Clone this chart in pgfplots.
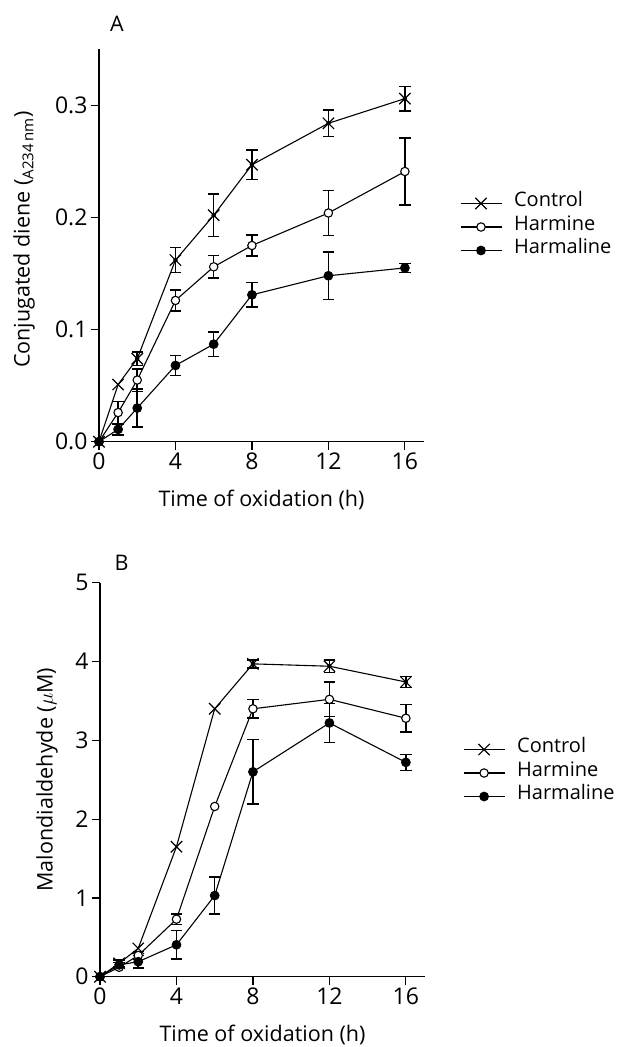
\documentclass[border=0pt]{standalone}
\usepackage{fontspec}
\setmainfont{Open Sans}
\usepackage{pgfplots}
\pgfplotsset{compat=1.18}

\pgfplotsset{
  fig/.style={
    scale only axis, width=325pt,
    xmin=0, xmax=17, xtick={0,4,8,12,16},
    axis lines=left, axis line style={-, line width=1.2pt},
    tick align=outside, major tick length=8pt, tick style={line width=1.2pt, black},
    clip=false,
    tick label style={font=\fontsize{23}{27}\selectfont},
    label style={font=\fontsize{21.5}{25}\selectfont},
    /pgf/number format/assume math mode=true,
    xlabel={Time of oxidation (h)},
    xlabel style={at={(axis description cs:0.5,-0.148)}, anchor=center},
    legend cell align=left,
    legend style={draw=none, fill=none, font=\fontsize{20}{24}\selectfont,
      inner sep=0pt, row sep=0pt,
      nodes={inner ysep=0pt, inner xsep=0pt, text height=15pt, text depth=8.5pt},
      /tikz/every odd column/.style={column sep=12pt}},
    legend image code/.code={\draw[mark repeat=2,mark phase=2,##1] plot coordinates {(0pt,0pt) (20.5pt,0pt) (41pt,0pt)};},
  },
  ctl/.style={black, line width=1.1pt, mark=x, mark size=8pt, mark options={line width=1.2pt}},
  hmn/.style={black, line width=1.1pt, mark=*, mark size=4.2pt, mark options={fill=white, line width=1.1pt}},
  hml/.style={black, line width=1.1pt, mark=*, mark size=4.3pt, mark options={fill=black}},
  err/.style={black, only marks, mark=none, forget plot,
    error bars/.cd, y dir=both, y explicit,
    error bar style={line width=1.5pt},
    error mark options={rotate=90, mark size=5.7pt, line width=1.5pt}},
}

\begin{document}
\begin{tikzpicture}
\path[use as bounding box] (-99pt,-605.3pt) rectangle (521pt,441.7pt);

% panel A
\begin{axis}[fig, at={(0pt,0pt)}, anchor=origin,
  height=392.4pt, ymin=0, ymax=0.35, ytick={0,0.1,0.2,0.3},
  yticklabel style={/pgf/number format/.cd, fixed, fixed zerofill, precision=1},
  ylabel={Conjugated diene (\textsubscript{A234\,nm})},
  ylabel style={at={(axis description cs:-0.231,0.515)}, anchor=center},
  legend style={at={(axis cs:18.87,0.1915)}, anchor=west},
]
\addplot[err] coordinates {(2,0.074) +- (0,0.006) (4,0.162) +- (0,0.011) (6,0.202) +- (0,0.019)
  (8,0.247) +- (0,0.013) (12,0.284) +- (0,0.012) (16,0.306) +- (0,0.011)};
\addplot[err] coordinates {(1,0.026) +- (0,0.010) (2,0.055) +- (0,0.010) (4,0.126) +- (0,0.0095)
  (6,0.156) +- (0,0.010) (8,0.175) +- (0,0.0095) (12,0.204) +- (0,0.020) (16,0.241) +- (0,0.030)};
\addplot[err] coordinates {(1,0.011) +- (0,0.005) (2,0.030) +- (0,0.017) (4,0.068) +- (0,0.009)
  (6,0.087) +- (0,0.011) (8,0.131) +- (0,0.011) (12,0.148) +- (0,0.021) (16,0.155) +- (0,0.004)};
\addplot[ctl] coordinates {(0,0) (1,0.051) (2,0.074) (4,0.162) (6,0.202) (8,0.247) (12,0.284) (16,0.306)};
\addplot[hmn] coordinates {(0,0) (1,0.026) (2,0.055) (4,0.126) (6,0.156) (8,0.175) (12,0.204) (16,0.241)};
\addplot[hml] coordinates {(0,0) (1,0.011) (2,0.030) (4,0.068) (6,0.087) (8,0.131) (12,0.148) (16,0.155)};
\legend{Control, Harmine, Harmaline}
\node[font=\fontsize{21.5}{25}\selectfont] at (rel axis cs:0,1) [xshift=18pt, yshift=26pt] {A};
\end{axis}

% panel B
\begin{axis}[fig, at={(1pt,-535pt)}, anchor=origin,
  height=394pt, ymin=0, ymax=5, ytick={0,1,2,3,4,5},
  ylabel={Malondialdehyde ($\mu$M)},
  ylabel style={at={(axis description cs:-0.163,0.5)}, anchor=center},
  legend style={at={(axis cs:18.98,2.585)}, anchor=west},
]
\addplot[err] coordinates {(1,0.17) +- (0,0.04) (8,3.97) +- (0,0.05) (12,3.94) +- (0,0.08) (16,3.74) +- (0,0.07)};
\addplot[err] coordinates {(2,0.27) +- (0,0.05) (4,0.73) +- (0,0.065) (8,3.40) +- (0,0.115)
  (12,3.52) +- (0,0.22) (16,3.28) +- (0,0.175)};
\addplot[err] coordinates {(1,0.15) +- (0,0.03) (2,0.19) +- (0,0.08) (4,0.405) +- (0,0.18)
  (6,1.03) +- (0,0.235) (8,2.60) +- (0,0.41) (12,3.22) +- (0,0.25) (16,2.72) +- (0,0.10)};
\addplot[ctl] coordinates {(0,0) (1,0.17) (2,0.36) (4,1.65) (6,3.40) (8,3.97) (12,3.94) (16,3.74)};
\addplot[hmn] coordinates {(0,0) (1,0.12) (2,0.27) (4,0.73) (6,2.16) (8,3.40) (12,3.52) (16,3.28)};
\addplot[hml] coordinates {(0,0) (1,0.15) (2,0.19) (4,0.405) (6,1.03) (8,2.60) (12,3.22) (16,2.72)};
\legend{Control, Harmine, Harmaline}
\node[font=\fontsize{21.5}{25}\selectfont] at (rel axis cs:0,1) [xshift=21.7pt, yshift=19.7pt] {B};
\end{axis}
\end{tikzpicture}
\end{document}
